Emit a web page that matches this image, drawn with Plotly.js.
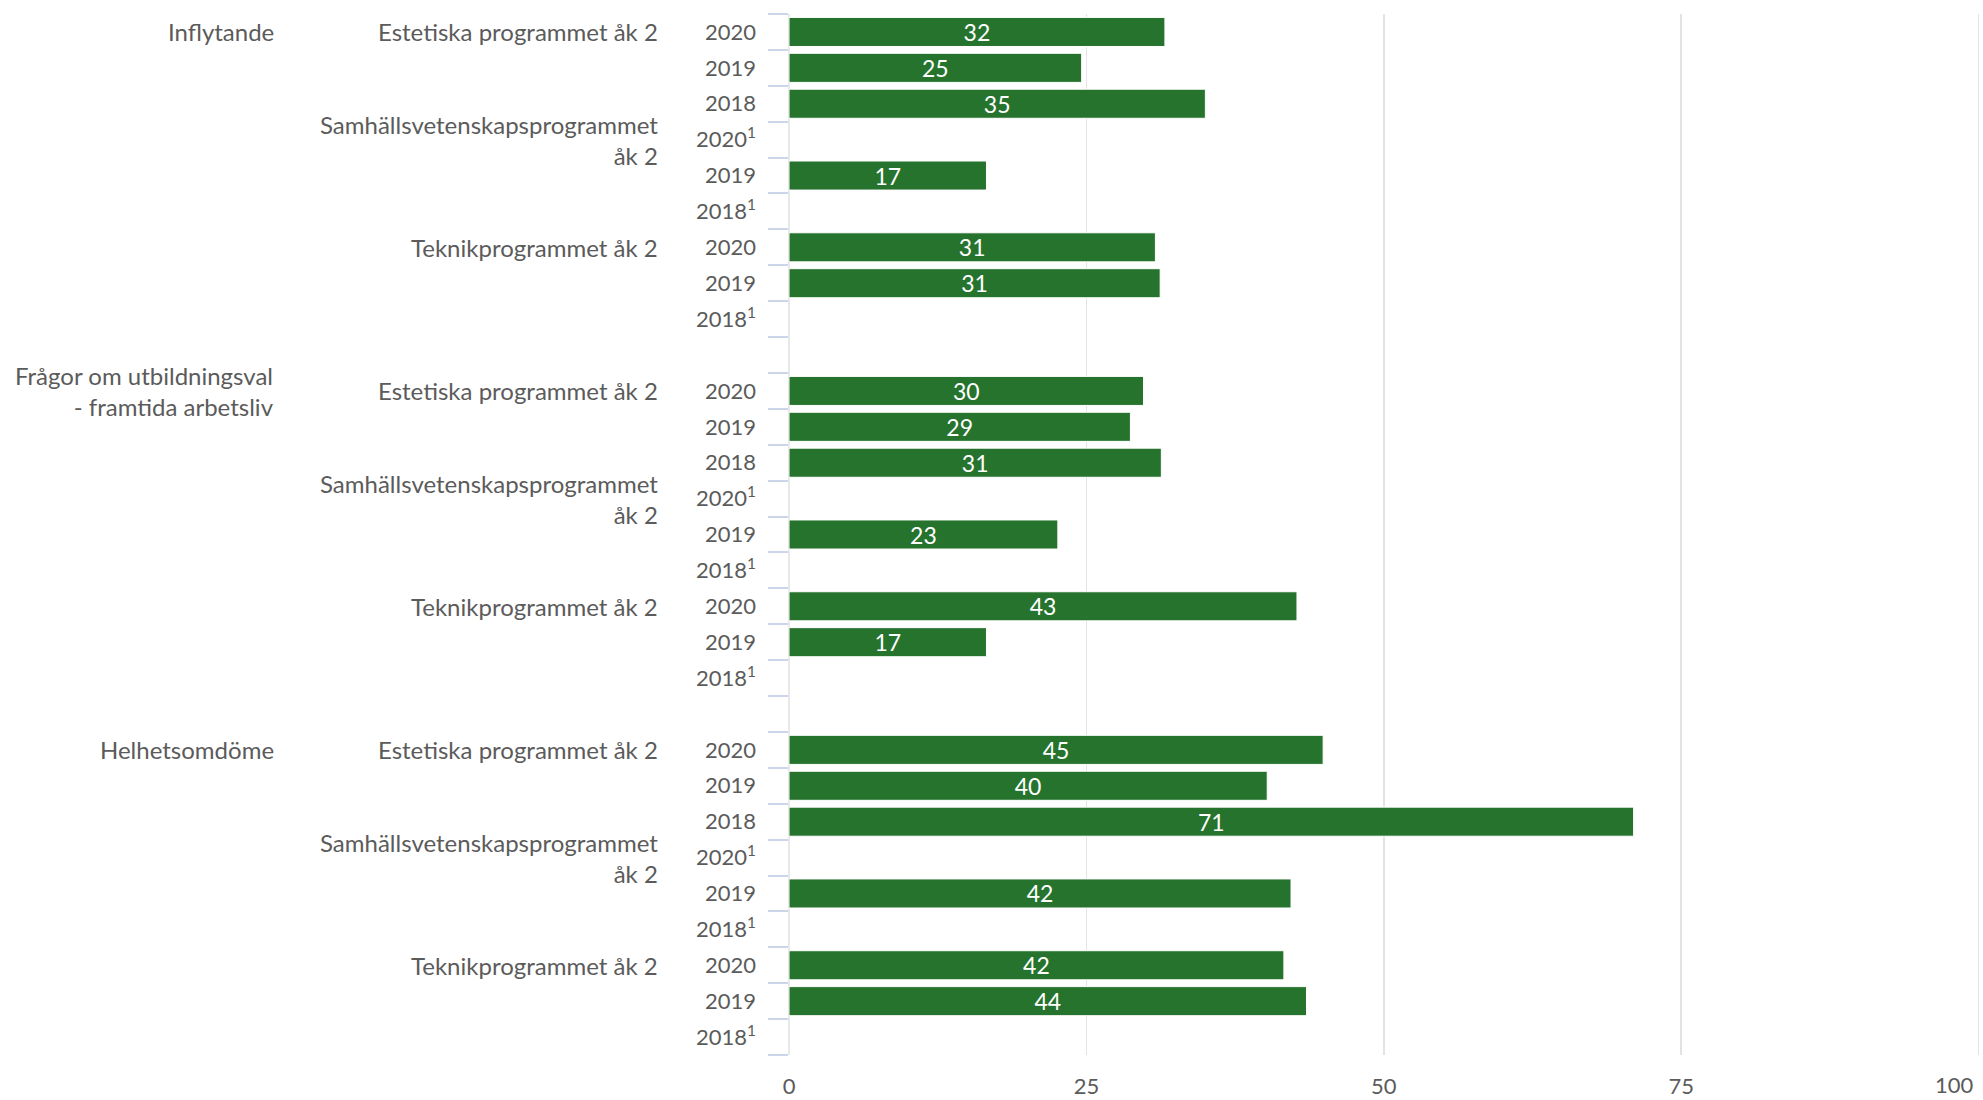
<!DOCTYPE html>
<html>
<head>
<meta charset="utf-8">
<script src="https://cdn.plot.ly/plotly-3.0.1.min.js"></script>
<style>html,body{margin:0;padding:0;background:#fff;}#chart{width:1983px;height:1100px;}</style>
</head>
<body>
<div id="chart"></div>
<script>
// ---- data ----
const groups = ["Inflytande", "Frågor om utbildningsval<br>- framtida arbetsliv", "Helhetsomdöme"];
const programs = ["Estetiska programmet åk 2", "Samhällsvetenskapsprogrammet<br>åk 2", "Teknikprogrammet åk 2"];
const yearLabels = [
  ["2020", "2019", "2018"],
  ["2020<sup>1</sup>", "2019", "2018<sup>1</sup>"],
  ["2020", "2019", "2018<sup>1</sup>"]
];
const inflytande = [31.6, 24.6, 35.0, null, 16.6, null, 30.8, 31.2, null];
const fragor     = [29.8, 28.7, 31.3, null, 22.6, null, 42.7, 16.6, null];
const helhet     = [44.9, 40.2, 71.0, null, 42.2, null, 41.6, 43.5, null];
const xTickVals = [0, 25, 50, 75, 100];
const xTickText = ["0", "25", "50", "75", "100"];

// ---- build categories ----
const series = [inflytande, fragor, helhet];
const cats = [], ticktext = [], xs = [];
const annotations = [];
const textColor = "#5b5b5b";
const fontFam = "Lato, 'Noto Sans', sans-serif";
series.forEach((vals, g) => {
  programs.forEach((p, pi) => {
    yearLabels[pi].forEach((yl, yi) => {
      const key = g + "-" + pi + "-" + yi;
      cats.push(key);
      ticktext.push(yl);
      xs.push(vals[pi * 3 + yi]);
      if (pi === 0 && yi === 0) {
        annotations.push({xref: "paper", yref: "y", x: -0.43, y: key, text: groups[g],
          showarrow: false, xanchor: "right", yanchor: "middle", align: "right",
          font: {family: fontFam, size: 24, color: textColor}});
      }
      if (yi === 0) {
        annotations.push({xref: "paper", yref: "y", x: -0.108, y: key, text: p,
          showarrow: false, xanchor: "right", yanchor: "middle", align: "right",
          font: {family: fontFam, size: 24, color: textColor}});
      }
    });
  });
  if (g < series.length - 1) {
    const key = "gap" + g;
    cats.push(key); ticktext.push(" "); xs.push(null);
  }
});

// x tick labels: all but the last drawn by the axis; the last one is kept inside the page
const lastIdx = xTickVals.length - 1;
const axisTickText = xTickText.map((t, i) => (i === lastIdx ? " " : t));
annotations.push({xref: "x", yref: "paper", x: xTickVals[lastIdx], y: 0, text: xTickText[lastIdx],
  showarrow: false, xanchor: "right", yanchor: "middle", yshift: -29, xshift: -3,
  font: {family: fontFam, size: 22, color: textColor}});

const trace = {
  type: "bar", orientation: "h",
  y: cats, x: xs,
  marker: {color: "#26732e", line: {color: "#ffffff", width: 1}},
  texttemplate: "%{x:.0f}", textposition: "inside", insidetextanchor: "middle",
  textangle: 0, constraintext: "none",
  textfont: {family: fontFam, size: 23, color: "#ffffff"},
  hoverinfo: "skip", cliponaxis: false
};

const layout = {
  width: 1983, height: 1100,
  margin: {l: 789, r: 2, t: 14, b: 45},
  paper_bgcolor: "#ffffff", plot_bgcolor: "#ffffff",
  bargap: 0.19,
  showlegend: false,
  font: {family: fontFam, color: textColor, size: 22},
  xaxis: {
    range: [0, 100.2], tickvals: xTickVals, ticktext: axisTickText, tickmode: "array",
    showgrid: true, gridcolor: "#e3e3e3", gridwidth: 1.5,
    zeroline: true, zerolinecolor: "#e8e8e8", zerolinewidth: 1.5,
    showline: false, ticks: "", tickfont: {size: 22, color: textColor}, ticklabelstandoff: 16
  },
  yaxis: {
    type: "category", categoryorder: "array", categoryarray: cats,
    range: [cats.length - 0.5, -0.5],
    tickmode: "array", tickvals: cats, ticktext: ticktext,
    tickson: "boundaries", ticks: "outside", ticklen: 20, tickwidth: 2, tickcolor: "#ccd6eb",
    showgrid: false, zeroline: false, showline: false,
    tickfont: {size: 22, color: textColor}, ticklabelstandoff: 32
  },
  annotations: annotations
};

Plotly.newPlot("chart", [trace], layout, {displayModeBar: false, staticPlot: true});
</script>
</body>
</html>
